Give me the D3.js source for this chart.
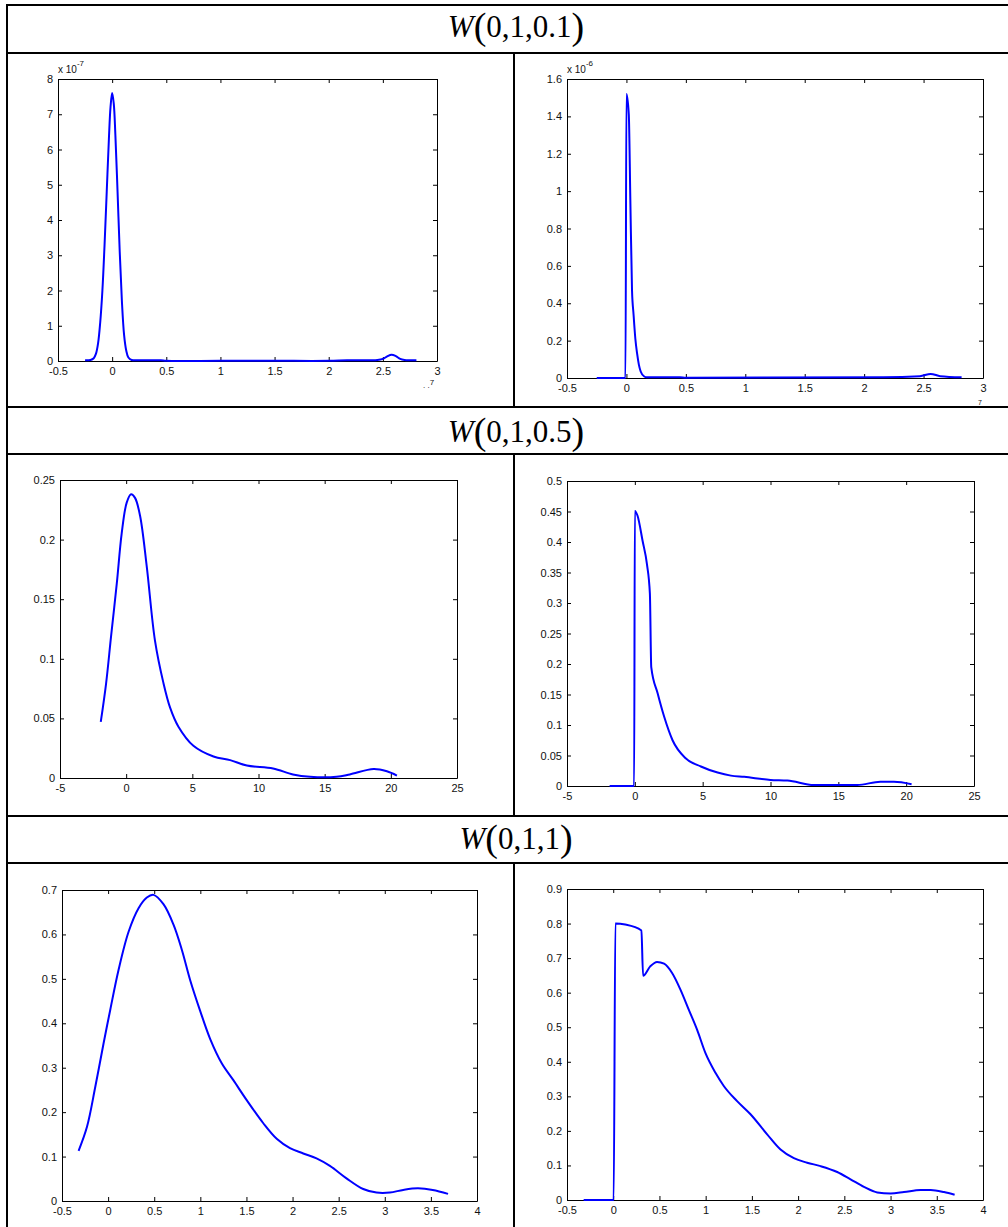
<!DOCTYPE html>
<html>
<head>
<meta charset="utf-8">
<script src="https://cdn.jsdelivr.net/npm/d3@7"></script>
<style>
  html, body { margin: 0; padding: 0; background: #fff; }
  svg text { font-family: "Liberation Sans", Arial, sans-serif; }
  .hdr, .hdr tspan { font-family: "Liberation Serif", "Times New Roman", serif; }
</style>
</head>
<body>
<svg id="chart" width="1008" height="1227"></svg>
<script>
// ---- data ----
// W(0,1,0.1), left: values in units of 1e-7 (x) and 1e-7 (y)
const p1X = [-0.25, -0.2, -0.17, -0.15, -0.13, -0.11, -0.09, -0.07, -0.05, -0.03, -0.015, 0, 0.015, 0.03, 0.05, 0.07, 0.09, 0.11, 0.13, 0.15, 0.18, 0.25, 0.45, 0.5, 1.0, 1.5, 2.0, 2.17, 2.45, 2.5, 2.54, 2.58, 2.62, 2.66, 2.7, 2.81];
const p1Y = [0.02, 0.03, 0.08, 0.2, 0.5, 1.1, 2.0, 3.3, 4.8, 6.3, 7.2, 7.6, 7.3, 6.4, 4.8, 3.1, 1.7, 0.75, 0.3, 0.1, 0.03, 0.02, 0.02, 0.005, 0.005, 0.005, 0.005, 0.02, 0.03, 0.06, 0.13, 0.18, 0.14, 0.06, 0.03, 0.02];
// W(0,1,0.1), right: y in units of 1e-6
const p2X = [-0.25, -0.008, 0, 0.02, 0.033, 0.047, 0.06, 0.075, 0.09, 0.105, 0.12, 0.15, 0.17, 0.45, 0.5, 2.16, 2.47, 2.56, 2.64, 2.82];
const p2Y = [0, 0, 1.52, 1.41, 0.95, 0.47, 0.34, 0.21, 0.13, 0.07, 0.035, 0.008, 0.004, 0.004, 0.002, 0.004, 0.01, 0.022, 0.01, 0.004];
// W(0,1,0.5)
const p3X = [-1.92, -1.52, -1.14, -0.71, -0.34, 0.04, 0.37, 0.67, 1.05, 1.55, 2.18, 2.81, 3.32, 3.95, 5.08, 6.6, 7.86, 9.12, 11.1, 12.6, 13.9, 15.9, 16.9, 18.7, 19.7, 20.46];
const p3Y = [0.047, 0.079, 0.119, 0.163, 0.205, 0.231, 0.238, 0.235, 0.22, 0.178, 0.115, 0.08, 0.059, 0.043, 0.027, 0.018, 0.015, 0.0105, 0.008, 0.003, 0.001, 0.001, 0.003, 0.0075, 0.0056, 0.002];
const p4X = [-1.86, -0.05, 0, 0.2, 0.57, 0.89, 1.11, 1.21, 1.68, 2.17, 2.78, 3.77, 4.87, 6.1, 7.08, 8.06, 10.0, 11.25, 13.2, 16.4, 18.1, 19.1, 20.4];
const p4Y = [0, 0, 0.451, 0.443, 0.402, 0.364, 0.315, 0.195, 0.152, 0.113, 0.075, 0.045, 0.032, 0.022, 0.017, 0.015, 0.01, 0.009, 0.0016, 0.0016, 0.007, 0.007, 0.003];
// W(0,1,1)
const p5X = [-0.32, -0.229, -0.139, -0.049, 0.023, 0.113, 0.222, 0.33, 0.42, 0.492, 0.6, 0.709, 0.8, 0.89, 0.998, 1.106, 1.232, 1.358, 1.503, 1.683, 1.828, 1.972, 2.116, 2.26, 2.405, 2.585, 2.766, 2.91, 3.055, 3.2, 3.36, 3.52, 3.686];
const p5Y = [0.113, 0.167, 0.257, 0.355, 0.43, 0.52, 0.606, 0.659, 0.683, 0.689, 0.668, 0.622, 0.565, 0.497, 0.428, 0.365, 0.31, 0.272, 0.227, 0.175, 0.14, 0.119, 0.107, 0.096, 0.079, 0.051, 0.027, 0.019, 0.019, 0.025, 0.0285, 0.025, 0.016];
const p6X = [-0.32, 0.005, 0.023, 0.13, 0.305, 0.323, 0.4, 0.474, 0.55, 0.637, 0.727, 0.817, 0.907, 0.998, 1.106, 1.196, 1.34, 1.485, 1.665, 1.81, 1.954, 2.098, 2.243, 2.423, 2.567, 2.712, 2.856, 3.0, 3.145, 3.325, 3.434, 3.578, 3.693];
const p6Y = [0, 0, 0.8, 0.797, 0.78, 0.649, 0.676, 0.689, 0.684, 0.657, 0.609, 0.551, 0.493, 0.425, 0.368, 0.33, 0.286, 0.248, 0.19, 0.146, 0.121, 0.108, 0.098, 0.081, 0.06, 0.038, 0.022, 0.019, 0.023, 0.029, 0.029, 0.023, 0.015];

// tick values
const ticksX1 = [-0.5, 0, 0.5, 1, 1.5, 2, 2.5, 3];
const ticksX2 = [-5, 0, 5, 10, 15, 20, 25];
const ticksX3 = [-0.5, 0, 0.5, 1, 1.5, 2, 2.5, 3, 3.5, 4];
const ticksY1 = [0, 1, 2, 3, 4, 5, 6, 7, 8];
const ticksY2 = [0, 0.2, 0.4, 0.6, 0.8, 1, 1.2, 1.4, 1.6];
const ticksY3 = [0, 0.05, 0.1, 0.15, 0.2, 0.25];
const ticksY4 = [0, 0.05, 0.1, 0.15, 0.2, 0.25, 0.3, 0.35, 0.4, 0.45, 0.5];
const ticksY5 = [0, 0.1, 0.2, 0.3, 0.4, 0.5, 0.6, 0.7];
const ticksY6 = [0, 0.1, 0.2, 0.3, 0.4, 0.5, 0.6, 0.7, 0.8, 0.9];

const headers = [
    { args: "0,1,0.1", y: 37 },
    { args: "0,1,0.5", y: 442 },
    { args: "0,1,1", y: 849 }
];

const svg = d3.select('#chart');
svg.append('rect').attr('width', 1008).attr('height', 1227).attr('fill', '#fff');

// table grid
const grid = svg.append('g').attr('stroke', '#000').attr('stroke-width', 2);
[5, 53, 407, 454, 816, 863].forEach(y => {
    grid.append('line').attr('x1', 6).attr('x2', 1008).attr('y1', y).attr('y2', y);
});
grid.append('line').attr('x1', 7).attr('x2', 7).attr('y1', 4).attr('y2', 1227);
[[53, 407], [454, 816], [863, 1227]].forEach(([a, b]) => {
    grid.append('line').attr('x1', 514).attr('x2', 514).attr('y1', a).attr('y2', b);
});

// row headers: W(...)
headers.forEach(h => {
    const t = svg.append('text').attr('class', 'hdr')
        .attr('x', 516).attr('y', h.y)
        .attr('text-anchor', 'middle')
        .attr('font-size', 31).attr('fill', '#000');
    t.append('tspan').attr('font-style', 'italic').text('W');
    t.append('tspan').attr('font-size', 38).attr('dy', 2).text('(');
    t.append('tspan').attr('dy', -2).text(h.args);
    t.append('tspan').attr('font-size', 38).attr('dy', 2).text(')');
});

const fmt = d => String(+d.toFixed(6));

// smooth curves get Catmull-Rom; the ones with vertical jumps keep monotone
const smooth = d3.curveCatmullRom.alpha(0.5);
const jumpy = d3.curveMonotoneX;

const panels = [
    { xs: p1X, ys: p1Y, xDom: [-0.5, 3], yDom: [0, 8], xt: ticksX1, yt: ticksY1, box: [58, 437, 79, 361], exp: '-7', curve: smooth },
    { xs: p2X, ys: p2Y, xDom: [-0.5, 3], yDom: [0, 1.6], xt: ticksX1, yt: ticksY2, box: [567, 983, 79, 378], exp: '-6', curve: jumpy },
    { xs: p3X, ys: p3Y, xDom: [-5, 25], yDom: [0, 0.25], xt: ticksX2, yt: ticksY3, box: [60, 457, 480, 778], curve: smooth },
    { xs: p4X, ys: p4Y, xDom: [-5, 25], yDom: [0, 0.5], xt: ticksX2, yt: ticksY4, box: [567, 974, 481, 786], curve: jumpy },
    { xs: p5X, ys: p5Y, xDom: [-0.5, 4], yDom: [0, 0.7], xt: ticksX3, yt: ticksY5, box: [62, 477, 890, 1201], curve: smooth },
    { xs: p6X, ys: p6Y, xDom: [-0.5, 4], yDom: [0, 0.9], xt: ticksX3, yt: ticksY6, box: [567, 983, 889, 1200], curve: jumpy }
];

panels.forEach(p => {
    const [l, r, t, b] = p.box;
    const x = d3.scaleLinear().domain(p.xDom).range([l, r]);
    const y = d3.scaleLinear().domain(p.yDom).range([b, t]);
    const g = svg.append('g');

    const styleAxis = sel => {
        sel.selectAll('path.domain').attr('stroke', '#000').attr('stroke-width', 1);
        sel.selectAll('.tick line').attr('stroke', '#000');
        sel.selectAll('text').attr('fill', '#111').attr('font-size', 11)
            .attr('font-family', '"Liberation Sans", Arial, sans-serif');
    };

    g.append('g').attr('transform', `translate(0,${b})`)
        .call(d3.axisBottom(x).tickValues(p.xt).tickSizeInner(-4).tickSizeOuter(0).tickPadding(6).tickFormat(fmt))
        .call(styleAxis);
    g.append('g').attr('transform', `translate(0,${t})`)
        .call(d3.axisTop(x).tickValues(p.xt).tickSizeInner(-4).tickSizeOuter(0).tickFormat(''))
        .call(styleAxis);
    g.append('g').attr('transform', `translate(${l},0)`)
        .call(d3.axisLeft(y).tickValues(p.yt).tickSizeInner(-4).tickSizeOuter(0).tickPadding(5).tickFormat(fmt))
        .call(styleAxis);
    g.append('g').attr('transform', `translate(${r},0)`)
        .call(d3.axisRight(y).tickValues(p.yt).tickSizeInner(-4).tickSizeOuter(0).tickFormat(''))
        .call(styleAxis);
    g.selectAll('.domain').attr('fill', 'none');

    const line = d3.line()
        .x(d => x(d[0]))
        .y(d => y(d[1]))
        .curve(p.curve);
    g.append('path')
        .datum(d3.zip(p.xs, p.ys))
        .attr('fill', 'none')
        .attr('stroke', '#0000ff')
        .attr('stroke-width', 2)
        .attr('stroke-linejoin', 'round')
        .attr('d', line);

    if (p.exp) {
        const e = g.append('text').attr('x', l).attr('y', t - 6)
            .attr('font-size', 10).attr('fill', '#111');
        e.append('tspan').text('x 10');
        e.append('tspan').attr('dy', -7).attr('font-size', 8).text(p.exp);
    }
});

// clipped exponent marks under the first row's x axes
svg.append('text').attr('x', 423).attr('y', 388).attr('font-size', 8).attr('fill', '#111')
    .call(s => { s.append('tspan').text('. .'); s.append('tspan').attr('dy', -3).text('7'); });
svg.append('text').attr('x', 978).attr('y', 405).attr('font-size', 7).attr('fill', '#111').text('7');
</script>
</body>
</html>
